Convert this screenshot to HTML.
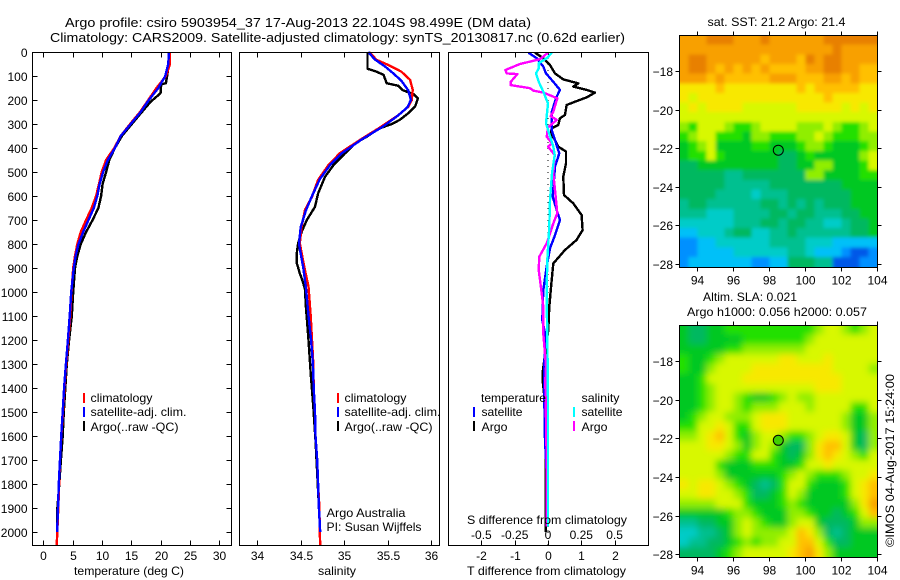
<!DOCTYPE html>
<html lang="en">
<head>
<meta charset="utf-8">
<title>Argo profile 5903954_37</title>
<style>
html,body{margin:0;padding:0;background:#fff;}
svg{display:block;}
text{font-family:"Liberation Sans",sans-serif;font-size:12px;fill:#000;}
</style>
</head>
<body>
<svg id="chart" xmlns="http://www.w3.org/2000/svg" width="900" height="580" viewBox="0 0 900 580">
  <defs>
    <filter id="blur-sst" filterUnits="userSpaceOnUse" x="650" y="0" width="250" height="300"><feGaussianBlur stdDeviation="1.8"/></filter>
    <filter id="blur-sla" filterUnits="userSpaceOnUse" x="650" y="290" width="250" height="290"><feGaussianBlur stdDeviation="3.5"/></filter>
    <clipPath id="clip-sst"><rect x="680" y="35" width="198" height="232"/></clipPath>
    <clipPath id="clip-sla"><rect x="680" y="325" width="198" height="232"/></clipPath>
  </defs>
  <rect x="0" y="0" width="900" height="580" fill="#fff"/>
  <g id="maps"></g>
  <g id="profiles"></g>
  <g id="labels"></g>

  <text x="65" y="27" font-size="13" style="font-size:13px" textLength="466" lengthAdjust="spacingAndGlyphs">Argo profile: csiro 5903954_37 17-Aug-2013 22.104S 98.499E (DM data)</text>
  <text x="50" y="42" style="font-size:13px" textLength="575" lengthAdjust="spacingAndGlyphs">Climatology: CARS2009. Satellite-adjusted climatology: synTS_20130817.nc (0.62d earlier)</text>

  <text x="74" y="575" textLength="110" lengthAdjust="spacingAndGlyphs">temperature (deg C)</text>
  <text x="318" y="575" textLength="38" lengthAdjust="spacingAndGlyphs">salinity</text>
  <text x="467" y="575" textLength="159" lengthAdjust="spacingAndGlyphs">T difference from climatology</text>
  <text x="467" y="524" textLength="160" lengthAdjust="spacingAndGlyphs">S difference from climatology</text>

  <g>
    <rect x="83" y="393" width="2" height="10" fill="#f00"/>
    <text x="90.5" y="402" textLength="62" lengthAdjust="spacingAndGlyphs">climatology</text>
    <rect x="83" y="407" width="2" height="10" fill="#00f"/>
    <text x="90.5" y="416" textLength="96" lengthAdjust="spacingAndGlyphs">satellite-adj. clim.</text>
    <rect x="83" y="421" width="2" height="10" fill="#000"/>
    <text x="90.5" y="431" textLength="88" lengthAdjust="spacingAndGlyphs">Argo(..raw -QC)</text>
  </g>
  <g>
    <rect x="337" y="393" width="2" height="10" fill="#f00"/>
    <text x="344.5" y="402" textLength="62" lengthAdjust="spacingAndGlyphs">climatology</text>
    <rect x="337" y="407" width="2" height="10" fill="#00f"/>
    <text x="344.5" y="416" textLength="96" lengthAdjust="spacingAndGlyphs">satellite-adj. clim.</text>
    <rect x="337" y="421" width="2" height="10" fill="#000"/>
    <text x="344.5" y="431" textLength="88" lengthAdjust="spacingAndGlyphs">Argo(..raw -QC)</text>
  </g>
  <g>
    <text x="481" y="402" textLength="65" lengthAdjust="spacingAndGlyphs">temperature</text>
    <rect x="473" y="407" width="2" height="10" fill="#00f"/>
    <text x="481.5" y="416" textLength="41" lengthAdjust="spacingAndGlyphs">satellite</text>
    <rect x="473" y="421" width="2" height="10" fill="#000"/>
    <text x="481.5" y="431" textLength="26" lengthAdjust="spacingAndGlyphs">Argo</text>
    <text x="581.5" y="402" textLength="38" lengthAdjust="spacingAndGlyphs">salinity</text>
    <rect x="573" y="407" width="2" height="10" fill="#0ff"/>
    <text x="581.5" y="416" textLength="41" lengthAdjust="spacingAndGlyphs">satellite</text>
    <rect x="573" y="421" width="2" height="10" fill="#f0f"/>
    <text x="581.5" y="431" textLength="26" lengthAdjust="spacingAndGlyphs">Argo</text>
  </g>

  <text x="326.5" y="517" textLength="79" lengthAdjust="spacingAndGlyphs">Argo Australia</text>
  <text x="326.5" y="531" textLength="95" lengthAdjust="spacingAndGlyphs">PI: Susan Wijffels</text>

  <text x="707.5" y="26" textLength="138" lengthAdjust="spacingAndGlyphs">sat. SST: 21.2 Argo: 21.4</text>
  <text x="703" y="301" textLength="94" lengthAdjust="spacingAndGlyphs">Altim. SLA: 0.021</text>
  <text x="687" y="316" textLength="180" lengthAdjust="spacingAndGlyphs">Argo h1000: 0.056 h2000: 0.057</text>
  <text transform="translate(894,547) rotate(-90)" textLength="173" lengthAdjust="spacingAndGlyphs">©IMOS 04-Aug-2017 15:24:00</text>
</svg>

<script>
// ---------- profile data (depth in m) ----------
var climTempDepth = [0,50,100,150,200,250,300,350,400,450,500,550,600,650,700,750,800,850,900,1000,1100,1200,1300,1400,1500,1600,1700,1800,1900,2000,2056];
var climTemp = [21.6,21.6,20.9,19.3,17.9,16.5,14.8,13.2,12.1,10.7,9.95,9.5,9.0,8.25,7.3,6.4,5.8,5.4,5.1,4.8,4.6,4.26,3.9,3.6,3.35,3.07,2.85,2.7,2.56,2.39,2.28];
var satTempDepth = [0,50,100,150,200,250,300,350,400,450,500,550,600,650,700,750,800,850,900,1000,1100,1200,1300,1400,1500,1600,1700,1800,1900,2000];
var satTemp = [21.4,21.3,20.8,19.6,18.0,16.6,14.9,13.2,12.2,11.0,10.2,9.6,9.2,8.6,7.7,6.8,6.0,5.5,5.2,4.75,4.5,4.2,3.85,3.55,3.3,3.05,2.85,2.65,2.5,2.35];
var argoTempDepth = [0,50,100,130,135,170,178,207,250,300,350,400,450,500,550,600,650,700,750,800,850,900,1000,1100,1200,1300,1400,1500,1600,1700,1800,1900,1960];
var argoTemp = [21.4,21.4,21.1,20.9,20.1,20.0,19.7,18.3,16.8,15.1,13.4,12.2,11.25,10.7,10.1,9.85,9.4,8.4,7.3,6.4,5.8,5.4,5.1,4.85,4.4,4.0,3.75,3.5,3.3,3.0,2.73,2.4,2.4];

var climSalDepth = [1,33,54,82,116,158,200,228,263,311,367,422,471,533,603,658,728,797,894,978,1100,1200,1300,1400,1500,1600,1700,1800,1900,2000,2056];
var climSal = [35.29,35.375,35.51,35.66,35.76,35.79,35.78,35.74,35.625,35.43,35.18,34.95,34.82,34.70,34.63,34.55,34.51,34.49,34.54,34.59,34.615,34.63,34.645,34.65,34.665,34.67,34.69,34.70,34.715,34.72,34.725];
var satSalDepth = [0,30,60,90,120,160,200,230,265,310,365,420,470,530,600,660,730,800,900,980,1100,1200,1300,1400,1500,1600,1700,1800,1900,2000];
var satSal = [35.28,35.35,35.47,35.57,35.66,35.74,35.77,35.73,35.62,35.45,35.2,34.98,34.84,34.72,34.63,34.56,34.50,34.48,34.53,34.56,34.59,34.62,34.64,34.65,34.665,34.67,34.69,34.70,34.71,34.725];
var argoSalDepth = [0,70,80,95,130,141,160,175,193,225,255,283,300,318,353,380,422,470,520,589,645,700,750,797,838,880,922,963,990,1061,1200,1339,1478,1617,1756,1894,1971];
var argoSal = [35.27,35.27,35.36,35.455,35.49,35.625,35.68,35.80,35.85,35.82,35.74,35.64,35.55,35.41,35.26,35.13,35.01,34.88,34.78,34.70,34.665,34.57,34.51,34.47,34.455,34.455,34.49,34.53,34.55,34.56,34.59,34.615,34.645,34.67,34.69,34.71,34.72];

var diffArgoTDepth = [3,26,54,89,114,131,144,158,169,189,207,221,262,276,304,318,339,367,394,415,464,519,596,631,679,742,783,825,881,950,1061,1158,1333,1370,1500,1967,2000];
var diffArgoT = [-0.39,-0.14,0.06,0.21,0.46,0.91,0.76,1.16,1.41,1.16,0.81,0.56,0.51,0.36,0.31,0.11,0.08,0.21,0.31,0.54,0.54,0.46,0.48,0.76,1.01,1.04,0.86,0.51,0.16,0.11,0.04,0.01,-0.16,-0.16,-0.06,-0.07,-0.07];
var diffSatTDepth = [3,26,61,89,124,158,186,249,325,367,422,478,603,658,700,763,818,894,992,1061,1117,1172,1374,1617,1756,1978];
var diffSatT = [-0.59,-0.34,-0.14,-0.06,0.16,0.36,0.26,0.11,0.11,0.21,0.34,0.21,0.14,0.26,0.36,0.21,0.06,-0.04,-0.14,-0.16,-0.17,-0.09,-0.12,-0.09,-0.04,-0.04];
var diffArgoSDepth = [3,30,50,75,89,92,124,138,151,161,169,193,249,267,283,314,353,381,394,429,506,617,672,714,797,853,908,992,1061,1172,1311,1367,1700,1978];
var diffArgoS = [0,-0.06,-0.21,-0.32,-0.31,-0.23,-0.28,-0.28,-0.135,-0.11,-0.035,0.07,0.04,0.02,0.065,0,-0.01,0.03,0,0.05,0.04,0.06,0.07,0.04,-0.01,-0.065,-0.07,-0.05,-0.035,-0.035,-0.015,-0.02,-0.01,-0.01];
var diffSatSDepth = [3,26,47,68,89,124,165,214,297,394,429,506,617,728,867,992,1061,1172,1450,1978];
var diffSatS = [0.03,-0.01,-0.07,-0.07,-0.09,-0.07,-0.035,0,-0.015,0.04,0.05,0.03,0.015,0.01,-0.005,-0.01,-0.01,-0.005,0,0];

// ---------- tick labels ----------
var depthTicks = [0,100,200,300,400,500,600,700,800,900,1000,1100,1200,1300,1400,1500,1600,1700,1800,1900,2000];
var tempTicks = [0,5,10,15,20,25,30];
var salTicks = [34,34.5,35,35.5,36];
var tDiffTicks = [-2,-1,0,1,2];
var sDiffTicks = [-0.5,-0.25,0,0.25,0.5];
var lonTicks = [94,96,98,100,102,104];
var latTicks = [-18,-20,-22,-24,-26,-28];
var profileLon = [98.499];
var profileLat = [-22.104];

// ---------- map grids (colour level per cell, north to south) ----------
var sstGrid = [
[12,12,12,13,13,13,12,12,12,13,12,12,12,12,12,12,13,13,13,13,13,13],
[12,12,12,12,12,12,12,12,12,12,12,12,12,12,12,12,12,13,12,12,12,12],
[12,13,13,12,12,12,12,12,12,11,12,12,12,11,13,12,13,13,12,12,12,12],
[12,13,13,12,11,12,11,12,11,12,11,11,11,11,12,12,13,13,12,12,11,11],
[12,12,12,11,12,11,11,11,11,11,12,12,12,11,11,11,12,12,11,12,11,11],
[10,10,10,10,11,10,10,10,10,10,10,10,10,11,10,11,11,11,11,11,10,10],
[10,9,10,10,10,10,10,10,10,10,10,10,10,10,10,10,11,10,10,10,10,10],
[9,10,9,10,10,10,10,9,9,9,9,9,9,10,10,10,10,10,9,10,9,10],
[9,9,9,9,9,9,9,9,9,9,9,9,9,9,9,9,9,9,9,9,9,9],
[8,7,9,9,9,8,7,7,8,9,9,9,9,8,8,8,9,8,7,7,8,9],
[7,8,9,9,7,7,7,6,8,8,7,7,7,8,8,9,8,7,7,7,8,8],
[6,7,8,9,6,6,6,6,7,7,6,6,6,7,8,8,7,6,6,6,7,8],
[6,7,7,9,7,6,6,6,6,6,6,5,5,6,7,6,6,6,6,6,8,9],
[5,5,6,6,6,6,6,6,6,6,6,5,5,6,6,8,8,6,6,6,7,9],
[5,5,5,5,5,4,4,5,5,5,5,5,5,5,8,8,6,6,6,6,7,7],
[5,5,5,5,5,4,4,4,4,4,5,5,5,5,5,5,5,5,6,6,6,6],
[5,5,5,5,4,4,4,4,3,4,4,4,5,5,5,5,5,5,5,6,6,6],
[4,5,5,4,4,4,4,4,4,5,5,4,5,4,5,4,5,5,5,6,6,6],
[4,4,4,3,3,3,4,4,4,4,5,5,4,5,5,4,4,4,5,5,6,6],
[3,3,3,3,3,3,4,4,4,5,5,4,5,5,4,4,3,3,4,5,5,6],
[2,2,3,3,3,4,5,5,3,3,4,4,5,4,4,4,4,4,4,5,5,6],
[1,1,2,2,3,3,3,3,3,3,4,4,4,4,3,3,3,2,2,2,2,2],
[1,1,2,2,2,2,3,3,3,3,3,3,4,4,3,2,2,2,1,0,0,1],
[1,2,2,2,2,2,2,2,1,1,2,2,5,5,5,4,4,0,0,0,1,1]
];
var slaGrid = [
[6,5,5,6,6,7,7,7,7,7,7,7,7,7,7,8,9,9,8,7,8,9],
[6,5,5,6,6,6,6,7,7,7,7,7,7,7,8,9,9,9,9,9,9,9],
[6,6,6,6,6,7,7,8,8,8,8,8,8,8,9,9,9,9,9,9,9,9],
[7,6,6,7,8,9,9,9,9,9,9,10,10,9,9,9,10,9,9,9,9,9],
[7,6,6,8,9,9,9,9,10,10,10,10,10,10,10,10,10,9,9,9,9,8],
[6,6,7,9,9,9,9,10,10,10,10,10,10,10,10,10,10,10,9,9,9,9],
[6,6,7,8,9,9,9,9,9,9,9,9,9,9,9,10,10,10,9,9,9,9],
[6,6,7,8,9,9,8,7,6,6,7,8,9,8,8,9,9,9,9,9,9,9],
[6,6,7,8,9,9,8,7,8,8,8,9,9,9,8,9,9,9,9,7,7,9],
[6,7,8,9,9,8,8,8,9,10,10,10,9,9,9,9,9,9,8,6,6,8],
[7,7,9,9,10,9,7,7,9,10,10,10,9,9,9,9,9,9,8,6,6,8],
[8,8,9,10,11,9,7,6,8,9,9,8,7,7,8,9,10,10,9,6,5,8],
[9,9,9,10,10,9,8,6,8,9,8,6,5,5,8,10,11,11,9,6,5,8],
[9,9,9,9,9,8,7,7,9,9,7,6,5,6,8,10,11,10,9,8,7,9],
[9,9,9,9,7,6,6,6,7,7,7,6,6,7,9,9,10,9,9,9,9,9],
[9,9,9,9,8,6,6,6,6,6,6,7,8,9,8,7,7,7,8,9,9,10],
[10,9,10,10,9,8,7,6,5,4,5,7,9,9,7,6,6,6,7,9,10,11],
[9,9,10,10,9,9,8,7,5,5,6,7,9,8,6,6,6,6,7,9,10,11],
[8,8,8,8,9,9,9,7,6,6,6,7,8,7,6,6,6,6,6,8,10,12],
[6,6,6,6,6,7,8,8,7,6,6,6,8,8,7,6,6,5,6,7,9,11],
[4,4,5,5,6,6,8,9,8,7,6,6,8,9,9,6,5,5,5,6,8,8],
[3,3,4,4,5,6,8,9,8,8,8,8,9,11,10,8,5,4,5,6,6,6],
[3,4,4,5,5,6,7,8,7,8,8,9,9,11,11,9,7,5,5,6,6,6],
[5,5,5,5,6,7,8,9,9,9,9,9,10,11,12,10,8,6,6,6,6,6]
];

// ---------- rendering (styles and geometry only below) ----------
var NS = 'http://www.w3.org/2000/svg';
var palette = ['#0058e8','#0090ff','#00c0f8','#00ccc8','#00c090','#00b860','#00c820','#20e000','#90ee00','#d8f800','#f8e800','#ffc000','#f8a000','#e88000'];
var profilesG = document.getElementById('profiles');
var labelsG = document.getElementById('labels');
var mapsG = document.getElementById('maps');

function el(tag, attrs, parent) {
  var e = document.createElementNS(NS, tag);
  for (var k in attrs) e.setAttribute(k, attrs[k]);
  parent.appendChild(e);
  return e;
}
function yDepth(z) { return 52 + z * 0.24; }
function xTemp(v) { return 43.3 + v * 5.867; }
function xSal(v) { return 257.3 + (v - 34) * 86.8; }
function xTDiff(v) { return 548 + v * 33.3; }
function xSDiff(v) { return 548 + v * 133.2; }

function drawLine(parent, name, depths, values, xf, color) {
  var pts = [];
  for (var i = 0; i < values.length; i++) {
    pts.push(xf(values[i]).toFixed(1) + ',' + yDepth(depths[i]).toFixed(1));
  }
  var line = el('polyline', {points: pts.join(' '), fill: 'none', stroke: color, 'stroke-width': 2.4, 'stroke-linejoin': 'round', 'shape-rendering': 'crispEdges'}, parent);
  
  
}
function drawFrame(parent, name, x0, x1, y0, y1) {
  var r = el('rect', {x: x0, y: y0, width: x1 - x0, height: y1 - y0, fill: 'none', stroke: '#000', 'stroke-width': 1, 'shape-rendering': 'crispEdges'}, parent);
  
  
}
function tick(parent, x1, y1, x2, y2) {
  var t = el('line', {x1: x1, y1: y1, x2: x2, y2: y2, stroke: '#000', 'stroke-width': 1, 'shape-rendering': 'crispEdges'}, parent);
  
  
}
function label(str, x, y, anchor) {
  var t = el('text', {x: x, y: y, 'text-anchor': anchor}, labelsG);
  t.textContent = str;
  
  
}

var TOP = 52.5, BOT = 545.5;
var panels = [
  {name: 'temperature-panel', x0: 32.5, x1: 231.5, ticks: tempTicks, xf: xTemp, yLabel: 560},
  {name: 'salinity-panel', x0: 239.5, x1: 439.5, ticks: salTicks, xf: xSal, yLabel: 560},
  {name: 'difference-panel', x0: 448.5, x1: 648.5, ticks: tDiffTicks, xf: xTDiff, yLabel: 560}
];
var panelGroups = {};
panels.forEach(function (p) {
  var g = el('g', {}, profilesG);
  
  
  panelGroups[p.name] = g;
  p.ticks.forEach(function (v) {
    var x = Math.round(p.xf(v)) + 0.5;
    tick(g, x, TOP, x, TOP + 5);
    tick(g, x, BOT, x, BOT - 5);
    label(String(v), x, p.yLabel, 'middle');
  });
});

// depth axis
depthTicks.forEach(function (z) {
  var y = Math.round(yDepth(z)) + 0.5;
  var g = panelGroups['temperature-panel'];
  tick(g, 32.5, y, 37.5, y);
  tick(g, 231.5, y, 226.5, y);
  label(String(z), 27.5, y + 4.5, 'end');
});
// S difference labels
sDiffTicks.forEach(function (v) {
  label(String(v), xSDiff(v), 539, 'middle');
});

// series
var gT = panelGroups['temperature-panel'];
drawLine(gT, 'temperature-argo-line', argoTempDepth, argoTemp, xTemp, '#000');
drawLine(gT, 'temperature-climatology-line', climTempDepth, climTemp, xTemp, '#f00');
drawLine(gT, 'temperature-satellite-line', satTempDepth, satTemp, xTemp, '#00f');

var gS = panelGroups['salinity-panel'];
drawLine(gS, 'salinity-argo-line', argoSalDepth, argoSal, xSal, '#000');
drawLine(gS, 'salinity-climatology-line', climSalDepth, climSal, xSal, '#f00');
drawLine(gS, 'salinity-satellite-line', satSalDepth, satSal, xSal, '#00f');

var gD = panelGroups['difference-panel'];
var zero = el('line', {x1: xTDiff(0), y1: 52, x2: xTDiff(0), y2: 545, stroke: '#000', 'stroke-width': 1, 'stroke-dasharray': '1 5', 'shape-rendering': 'crispEdges'}, gD);


drawLine(gD, 'diff-temperature-argo-line', diffArgoTDepth, diffArgoT, xTDiff, '#000');
drawLine(gD, 'diff-temperature-satellite-line', diffSatTDepth, diffSatT, xTDiff, '#00f');
drawLine(gD, 'diff-salinity-argo-line', diffArgoSDepth, diffArgoS, xSDiff, '#f0f');
drawLine(gD, 'diff-salinity-satellite-line', diffSatSDepth, diffSatS, xSDiff, '#0ff');

panels.forEach(function (p) {
  drawFrame(panelGroups[p.name], p.name + '-frame', p.x0, p.x1, TOP, BOT);
});

// maps
function drawMap(name, grid, top, bottom, lat18y, lat28y, markerFill, blurId, clipId) {
  var g = el('g', {}, mapsG);
  
  
  var left = 679.3, right = 877.3;
  var rows = grid.length, cols = grid[0].length;
  var cw = (right - left) / cols, ch = (bottom - top) / rows;
  var bleed = 14;
  function xLon(lon) { return 697.3 + (lon - 94) * 18; }
  function yLat(lat) { return lat18y + (-18 - lat) * (lat28y - lat18y) / 10; }
  var clipG = el('g', {'clip-path': 'url(#' + clipId + ')'}, g);
  
  
  var blurG = el('g', {filter: 'url(#' + blurId + ')'}, clipG);
  
  
  grid.forEach(function (row, r) {
    row.forEach(function (v, c) {
      var x = left + c * cw, y = top + r * ch, w = cw + 0.6, h = ch + 0.6;
      if (c === 0) { x -= bleed; w += bleed; }
      if (c === cols - 1) { w += bleed; }
      if (r === 0) { y -= bleed; h += bleed; }
      if (r === rows - 1) { h += bleed; }
      var cell = el('rect', {x: x.toFixed(2), y: y.toFixed(2), width: w.toFixed(2), height: h.toFixed(2), fill: palette[v], 'shape-rendering': 'crispEdges'}, blurG);
      
      
    });
  });
  var fx0 = 679.5, fx1 = 877.5, fy0 = Math.round(top) + 0.5, fy1 = Math.round(bottom) + 0.5;
  drawFrame(g, name + '-frame', fx0, fx1, fy0, fy1);
  lonTicks.forEach(function (lon) {
    var x = Math.round(xLon(lon)) + 0.5;
    tick(g, x, fy0, x, fy0 - 4);
    tick(g, x, fy1, x, fy1 + 4);
    label(String(lon), x, fy1 + 17, 'middle');
  });
  latTicks.forEach(function (lat) {
    var y = Math.round(yLat(lat)) + 0.5;
    tick(g, fx0, y, fx0 - 4, y);
    tick(g, fx1, y, fx1 + 4, y);
    label(String(lat).replace('-', '\u2212'), 673, y + 4.5, 'end');
  });
  var m = el('circle', {cx: xLon(profileLon[0]).toFixed(1), cy: yLat(profileLat[0]).toFixed(1), r: 5, fill: markerFill, stroke: '#000', 'stroke-width': 1}, g);
  
  
}
drawMap('sst-map', sstGrid, 35, 266.7, 71, 264, 'none', 'blur-sst', 'clip-sst');
drawMap('sla-map', slaGrid, 325, 556.7, 361, 554.3, '#40d000', 'blur-sla', 'clip-sla');
</script>
</body>
</html>
